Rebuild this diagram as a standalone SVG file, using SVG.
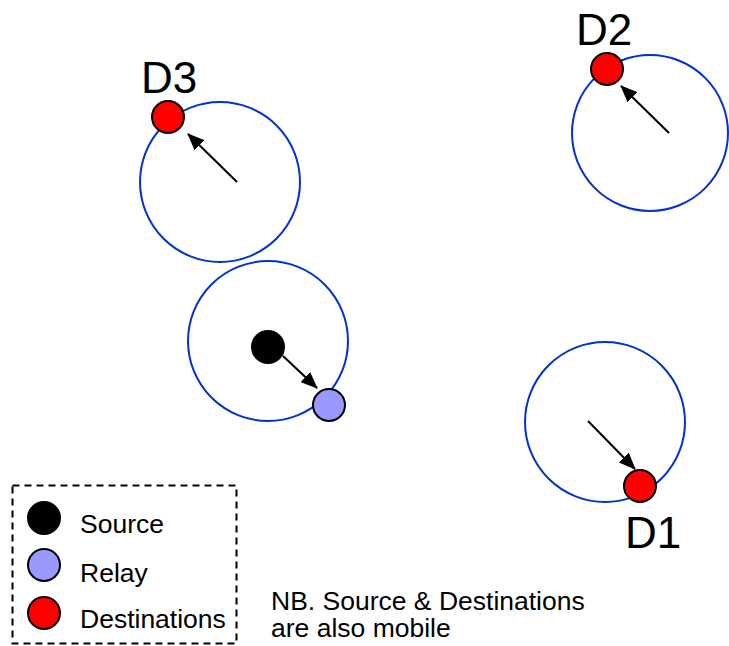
<svg xmlns="http://www.w3.org/2000/svg" width="729" height="646" viewBox="0 0 729 646">
  <style>
    .range { fill: none; stroke: #0033CC; stroke-width: 2; }
    .node { stroke: #000; stroke-width: 2; }
    .src { fill: #000; }
    .relay { fill: #9999FF; }
    .dest { fill: #FF0000; }
    .move { stroke: #000; stroke-width: 2; fill: none; marker-end: url(#head); }
    .big { font-family: "Liberation Sans", Arial, sans-serif; font-size: 44px; fill: #000; }
    .txt { font-family: "Liberation Sans", Arial, sans-serif; font-size: 26.5px; fill: #000; }
  </style>
  <defs>
    <marker id="head" markerUnits="userSpaceOnUse" markerWidth="18" markerHeight="14" refX="16" refY="7" orient="auto">
      <path d="M0,0 L17,7 L0,14 Z" fill="#000"/>
    </marker>
  </defs>

  <rect width="729" height="646" fill="#fff"/>

  <!-- mobility ranges -->
  <g id="ranges">
    <circle class="range" cx="220" cy="182" r="80"/>
    <circle class="range" cx="268" cy="341" r="80"/>
    <circle class="range" cx="650" cy="133" r="78"/>
    <circle class="range" cx="605" cy="422" r="80"/>
  </g>

  <!-- movement vectors -->
  <g id="connectors">
    <line class="move" x1="237" y1="182" x2="188" y2="134"/>
    <line class="move" x1="283" y1="356" x2="317" y2="388"/>
    <line class="move" x1="669" y1="133" x2="621" y2="86"/>
    <line class="move" x1="588" y1="421" x2="635" y2="469"/>
  </g>

  <g id="source">
    <circle class="node src" cx="268" cy="347" r="16"/>
  </g>
  <g id="relay">
    <circle class="node relay" cx="329" cy="405" r="16"/>
  </g>
  <g id="d3">
    <circle class="node dest" cx="168" cy="117" r="16"/>
    <text class="big" x="141" y="93">D3</text>
  </g>
  <g id="d2">
    <circle class="node dest" cx="607" cy="69" r="16"/>
    <text class="big" x="576" y="45">D2</text>
  </g>
  <g id="d1">
    <circle class="node dest" cx="640" cy="486" r="16"/>
    <text class="big" x="625" y="548">D1</text>
  </g>

  <!-- legend -->
  <g id="legend">
    <rect x="12.5" y="485.5" width="224" height="158" fill="none" stroke="#000" stroke-width="2" stroke-dasharray="7,5"/>
    <circle class="node src" cx="44" cy="518" r="16"/>
    <circle class="node relay" cx="44" cy="565" r="16"/>
    <circle class="node dest" cx="44" cy="613" r="16"/>
    <text class="txt" x="80" y="533">Source</text>
    <text class="txt" x="80" y="582">Relay</text>
    <text class="txt" x="80" y="628">Destinations</text>
  </g>

  <g id="note">
    <text class="txt" x="271" y="610">NB. Source &amp; Destinations</text>
    <text class="txt" x="271" y="637">are also mobile</text>
  </g>
</svg>
